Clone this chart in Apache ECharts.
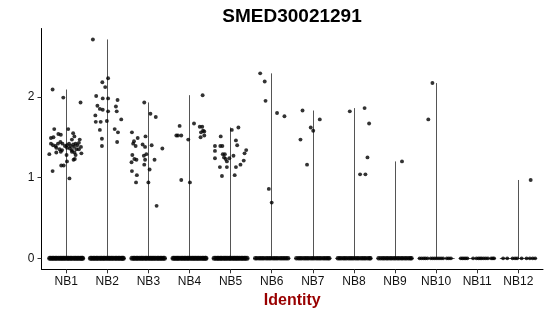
<!DOCTYPE html>
<html>
<head>
<meta charset="utf-8">
<script src="https://cdn.jsdelivr.net/npm/echarts@6/dist/echarts.min.js"></script>
<style>
html,body{margin:0;padding:0;background:#fff;}
#chart{width:550px;height:316px;}
</style>
</head>
<body>
<div id="chart"></div>
<script>
const categories = ['NB1','NB2','NB3','NB4','NB5','NB6','NB7','NB8','NB9','NB10','NB11','NB12'];
const yTicks = [0, 1, 2];

// Non-zero expression points: [jitter offset from group centre, value]
const pointsNB1 = [[-0.33,2.09],[-0.07,1.99],[0.35,1.93],[-0.29,1.60],[0.05,1.60],[-0.37,1.49],[-0.31,1.50],[-0.19,1.54],[-0.13,1.53],[0.17,1.55],[0.20,1.51],[0.14,1.47],[0.33,1.47],[-0.37,1.42],[-0.32,1.40],[-0.26,1.39],[-0.20,1.42],[-0.14,1.44],[-0.09,1.42],[-0.03,1.39],[0.02,1.40],[0.07,1.42],[0.11,1.39],[0.17,1.41],[0.23,1.42],[0.27,1.40],[0.31,1.43],[0.36,1.38],[-0.24,1.37],[-0.16,1.35],[-0.10,1.34],[0.02,1.37],[0.09,1.36],[0.14,1.34],[0.19,1.38],[0.25,1.35],[0.31,1.35],[-0.41,1.29],[-0.24,1.31],[-0.13,1.32],[0.14,1.32],[0.20,1.31],[0.37,1.30],[0.01,1.28],[0.23,1.28],[0.18,1.22],[0.21,1.23],[0.02,1.20],[-0.12,1.15],[-0.06,1.15],[-0.33,1.08],[0.08,0.99]];
const pointsNB2 = [[-0.35,2.71],[0.02,2.23],[-0.12,2.18],[-0.05,2.12],[-0.27,2.01],[-0.11,1.98],[0.02,1.98],[0.25,1.96],[-0.24,1.89],[-0.18,1.85],[-0.11,1.84],[0.21,1.88],[0.23,1.82],[0.02,1.82],[-0.29,1.77],[0.34,1.72],[-0.28,1.69],[-0.16,1.69],[-0.01,1.70],[0.18,1.60],[-0.18,1.59],[0.26,1.56],[-0.13,1.48],[0.24,1.44],[-0.13,1.39]];
const pointsNB3 = [[-0.10,1.93],[0.05,1.79],[0.18,1.75],[-0.40,1.56],[-0.26,1.49],[-0.07,1.51],[-0.35,1.45],[-0.37,1.42],[-0.31,1.39],[-0.14,1.41],[-0.08,1.38],[0.08,1.40],[0.34,1.36],[-0.39,1.28],[-0.05,1.29],[-0.34,1.23],[-0.29,1.22],[-0.11,1.27],[-0.08,1.22],[0.15,1.22],[-0.41,1.19],[-0.10,1.16],[0.03,1.10],[-0.40,1.08],[-0.28,1.03],[-0.30,0.94],[0.00,0.94],[0.20,0.65]];
const pointsNB4 = [[0.32,2.02],[0.11,1.67],[-0.24,1.64],[-0.32,1.52],[-0.28,1.52],[-0.20,1.52],[-0.03,1.47],[0.25,1.63],[0.31,1.63],[0.33,1.58],[0.28,1.56],[0.36,1.57],[0.27,1.50],[0.36,1.52],[-0.20,0.97],[0.01,0.94]];
const pointsNB5 = [[0.19,1.62],[0.03,1.59],[-0.24,1.51],[-0.38,1.39],[-0.25,1.39],[-0.20,1.39],[0.13,1.46],[0.16,1.40],[-0.38,1.33],[0.38,1.34],[0.34,1.30],[-0.19,1.29],[-0.14,1.29],[-0.16,1.25],[-0.12,1.23],[-0.03,1.24],[0.07,1.27],[-0.38,1.24],[-0.09,1.20],[0.32,1.21],[0.24,1.16],[-0.26,1.13],[-0.09,1.13],[0.13,1.13],[-0.21,1.02],[0.10,1.03]];
const pointsNB6 = [[-0.28,2.29],[-0.17,2.19],[-0.15,1.95],[0.13,1.80],[0.31,1.76],[-0.07,0.86],[0.00,0.69]];
const pointsNB7 = [[-0.25,1.83],[-0.30,1.47],[-0.14,1.16],[-0.05,1.62],[0.01,1.58],[0.17,1.72]];
const pointsNB8 = [[-0.10,1.82],[0.26,1.86],[0.37,1.67],[0.33,1.25],[0.15,1.04],[0.28,1.04]];
const pointsNB9 = [[0.17,1.20]];
const pointsNB10 = [[-0.19,1.72],[-0.09,2.17]];
const pointsNB11 = [];
const pointsNB12 = [[0.30,0.97]];

// Jitter offsets of the cells with zero expression
const zeroNB1 = [-0.40,-0.37,-0.33,-0.30,-0.26,-0.23,-0.19,-0.15,-0.12,-0.08,-0.05,-0.01,0.03,0.06,0.10,0.13,0.17,0.21,0.24,0.28,0.31,0.35,0.38,0.40];
const zeroNB2 = [-0.41,-0.38,-0.34,-0.31,-0.27,-0.24,-0.20,-0.16,-0.13,-0.09,-0.06,-0.02,0.02,0.05,0.09,0.12,0.16,0.20,0.23,0.27,0.30,0.34,0.37,0.39];
const zeroNB3 = [-0.40,-0.36,-0.33,-0.29,-0.26,-0.22,-0.18,-0.15,-0.11,-0.07,-0.04,0.00,0.04,0.07,0.11,0.14,0.18,0.22,0.25,0.29,0.32,0.36,0.39];
const zeroNB4 = [-0.40,-0.37,-0.33,-0.30,-0.27,-0.23,-0.19,-0.16,-0.12,-0.09,-0.05,-0.02,0.02,0.06,0.09,0.13,0.16,0.20,0.23,0.27,0.31,0.34,0.38,0.40];
const zeroNB5 = [-0.40,-0.36,-0.32,-0.29,-0.25,-0.22,-0.18,-0.14,-0.11,-0.07,-0.03,0.00,0.04,0.08,0.11,0.15,0.18,0.22,0.26,0.29,0.33,0.36,0.40];
const zeroNB6 = [-0.40,-0.36,-0.31,-0.27,-0.23,-0.19,-0.14,-0.10,-0.06,-0.02,0.03,0.07,0.11,0.15,0.20,0.24,0.28,0.32,0.36,0.40];
const zeroNB7 = [-0.40,-0.35,-0.31,-0.27,-0.22,-0.18,-0.14,-0.10,-0.05,-0.01,0.03,0.08,0.12,0.16,0.20,0.25,0.29,0.33,0.37,0.40];
const zeroNB8 = [-0.39,-0.35,-0.31,-0.26,-0.22,-0.18,-0.13,-0.09,-0.05,-0.01,0.04,0.08,0.12,0.17,0.21,0.25,0.29,0.34,0.38,0.40];
const zeroNB9 = [-0.40,-0.35,-0.30,-0.26,-0.21,-0.17,-0.12,-0.08,-0.03,0.01,0.06,0.10,0.15,0.19,0.24,0.28,0.33,0.37,0.40];
const zeroNB10 = [-0.40,-0.35,-0.30,-0.26,-0.21,-0.13,-0.08,-0.03,0.02,0.07,0.12,0.17,0.26,0.31,0.36];
const zeroNB11 = [-0.40,-0.36,-0.32,-0.28,-0.24,-0.10,-0.02,0.03,0.07,0.11,0.16,0.21,0.26,0.34,0.38,0.41];
const zeroNB12 = [-0.37,-0.27,-0.14,-0.08,-0.03,0.08,0.20,0.28,0.35,0.41];

const pointsByGroup = [pointsNB1,pointsNB2,pointsNB3,pointsNB4,pointsNB5,pointsNB6,pointsNB7,pointsNB8,pointsNB9,pointsNB10,pointsNB11,pointsNB12];
const zerosByGroup = [zeroNB1,zeroNB2,zeroNB3,zeroNB4,zeroNB5,zeroNB6,zeroNB7,zeroNB8,zeroNB9,zeroNB10,zeroNB11,zeroNB12];

const FONT = 'Liberation Sans, Arial, Helvetica, sans-serif';
const HALF_WIDTH = 0.45;

const violinLines = [];
const exprPoints = [];
const zeroDense = [];
const zeroMid = [];
const zeroSparse = [];
categories.forEach((c, i) => {
  const x = i + 1;
  const pts = pointsByGroup[i];
  violinLines.push({ coords: [[x - HALF_WIDTH, 0], [x + HALF_WIDTH, 0]] });
  if (pts.length) {
    const maxV = Math.max(...pts.map(p => p[1]));
    violinLines.push({ coords: [[x, 0], [x, maxV]] });
  }
  pts.forEach(p => exprPoints.push([x + p[0], p[1]]));
  const target = i < 5 ? zeroDense : (i < 9 ? zeroMid : zeroSparse);
  zerosByGroup[i].forEach(d => target.push([x + d, 0]));
});

const chart = echarts.init(document.getElementById('chart'), null, { renderer: 'canvas' });
chart.setOption({
  animation: false,
  backgroundColor: '#ffffff',
  title: {
    text: 'SMED30021291',
    left: 292,
    top: 7,
    padding: 0,
    textAlign: 'center',
    textStyle: { fontFamily: FONT, fontWeight: 'bold', fontSize: 19, color: '#000' }
  },
  grid: { left: 41.5, right: 7, top: 28.5, bottom: 46.7, containLabel: false },
  xAxis: {
    type: 'value',
    min: 0.4,
    max: 12.6,
    name: 'Identity',
    nameLocation: 'middle',
    nameGap: 21,
    nameTextStyle: { fontFamily: FONT, fontWeight: 'bold', fontSize: 16, color: '#990000' },
    splitLine: { show: false },
    axisLine: { show: true, onZero: false, lineStyle: { color: '#000', width: 1 } },
    axisTick: { show: true, length: 4, customValues: categories.map((c, i) => i + 1), lineStyle: { color: '#333' } },
    axisLabel: {
      customValues: categories.map((c, i) => i + 1),
      formatter: v => categories[Math.round(v) - 1],
      fontFamily: FONT, fontSize: 12, color: '#111', margin: 6
    }
  },
  yAxis: {
    type: 'value',
    min: -0.1355,
    max: 2.8455,
    splitLine: { show: false },
    axisLine: { show: true, onZero: false, lineStyle: { color: '#000', width: 1 } },
    axisTick: { show: true, length: 4, customValues: yTicks, lineStyle: { color: '#333' } },
    axisLabel: { customValues: yTicks, fontFamily: FONT, fontSize: 12, color: '#111', margin: 7 }
  },
  series: [
    {
      type: 'lines',
      coordinateSystem: 'cartesian2d',
      polyline: false,
      silent: true,
      data: violinLines,
      lineStyle: { color: '#555', width: 1, opacity: 1 },
      z: 1
    },
    {
      type: 'scatter',
      data: zeroDense,
      symbolSize: 5,
      itemStyle: { color: '#000' },
      silent: true,
      z: 2
    },
    {
      type: 'scatter',
      data: zeroMid,
      symbolSize: 4.5,
      itemStyle: { color: '#000' },
      silent: true,
      z: 2
    },
    {
      type: 'scatter',
      data: zeroSparse,
      symbolSize: 3.9,
      itemStyle: { color: '#000' },
      silent: true,
      z: 2
    },
    {
      type: 'scatter',
      data: exprPoints,
      symbolSize: 3.9,
      itemStyle: { color: '#000' },
      silent: true,
      z: 3
    }
  ]
});
</script>
</body>
</html>
